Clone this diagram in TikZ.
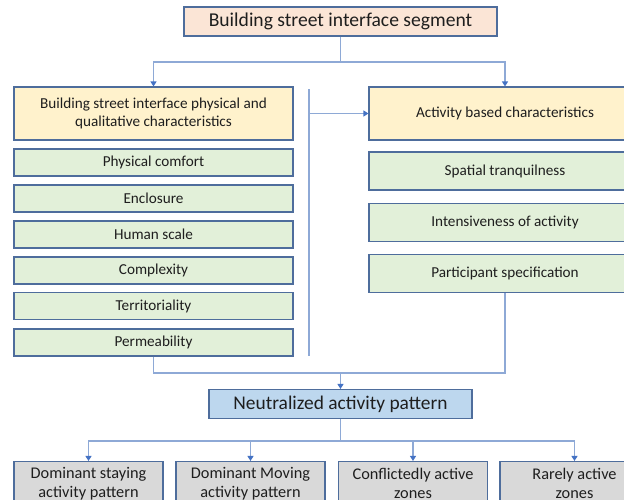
\documentclass[tikz,border=0pt]{standalone}
\usepackage{fontspec}
\setmainfont{Carlito}
\usetikzlibrary{arrows.meta}
\definecolor{boxedge}{HTML}{4E6D9C}
\definecolor{peach}{HTML}{FBE5D6}
\definecolor{cream}{HTML}{FFF2CC}
\definecolor{mint}{HTML}{E2F0D9}
\definecolor{sky}{HTML}{BDD7EE}
\definecolor{greybox}{HTML}{D9D9D9}
\definecolor{linkline}{HTML}{8EA9D6}
\definecolor{tipblue}{HTML}{4472C4}
\definecolor{ink}{HTML}{1E1E1E}
\tikzset{
  x=1pt, y=-1pt,
  card/.style={draw=boxedge, line width=1.1pt, rectangle, inner sep=0pt,
    text=ink, align=center},
  titlebox/.style={card, fill=peach, minimum width=313pt, minimum height=29pt, font=\fontsize{19.6}{22}\selectfont},
  headbox/.style={card, fill=cream, minimum height=53pt, font=\fontsize{15.2}{18}\selectfont},
  itembox/.style={card, fill=mint, font=\fontsize{15.2}{18}\selectfont},
  neutralbox/.style={card, fill=sky, minimum width=263pt, minimum height=29pt, font=\fontsize{19.4}{22}\selectfont},
  outbox/.style={card, fill=greybox, minimum width=149pt, minimum height=44pt, font=\fontsize{16.3}{18.5}\selectfont},
  link/.style={draw=linkline, line width=1.1pt},
  linkarrow/.style={link, -{Triangle[width=6pt,length=5pt,color=tipblue]}},
}
\begin{document}
\begin{tikzpicture}
\clip (0,0) rectangle (624,499);
\fill[white] (0,0) rectangle (624,499);

% top level
\node[titlebox] (segment) at (340.5,21.5) {Building street interface segment};

% two characteristic groups
\node[headbox, minimum width=279pt] (physical) at (153.5,113.5)
  {Building street interface physical and\\qualitative characteristics};
\node[headbox, minimum width=272pt] (activity) at (505,113.5)
  {Activity based characteristics};

% physical and qualitative items
\node[itembox, minimum width=279pt, minimum height=27pt] (comfort) at (153.5,162.5) {Physical comfort};
\node[itembox, minimum width=279pt, minimum height=27pt] (enclosure) at (153.5,198.5) {Enclosure};
\node[itembox, minimum width=279pt, minimum height=27pt] (scale) at (153.5,234.5) {Human scale};
\node[itembox, minimum width=279pt, minimum height=27pt] (complexity) at (153.5,270.5) {Complexity};
\node[itembox, minimum width=279pt, minimum height=27pt] (territory) at (153.5,306) {Territoriality};
\node[itembox, minimum width=279pt, minimum height=27pt] (permeability) at (153.5,342.5) {Permeability};

% activity based items
\node[itembox, minimum width=272pt, minimum height=38pt] (tranquil) at (505,171) {Spatial tranquilness};
\node[itembox, minimum width=272pt, minimum height=38pt] (intensity) at (505,222.5) {Intensiveness of activity};
\node[itembox, minimum width=272pt, minimum height=38pt] (participant) at (505,273.5) {Participant specification};

% result
\node[neutralbox] (neutral) at (340.5,404) {Neutralized activity pattern};

% outcome patterns
\node[outbox] (staying) at (88.5,483.5) {Dominant staying\\activity pattern};
\node[outbox] (moving) at (250.5,483.5) {Dominant Moving\\activity pattern};
\node[outbox] (conflict) at (413,483.5) {Conflictedly active\\zones};
\node[outbox] (rare) at (574.5,483.5) {Rarely active\\zones};

% split from the segment to both groups
\coordinate (split) at (340.5,62);
\draw[link] (segment.south) -- (split);
\draw[linkarrow] (split) -| (physical.north);
\draw[linkarrow] (split) -| (activity.north);

% bracket beside the physical items, feeding the activity group
\coordinate (bartop) at (309,89);
\coordinate (barbot) at (309,356);
\coordinate (barmid) at (309,113.5);
\draw[link] (bartop) -- (barbot);
\draw[linkarrow] (barmid) -- (activity.west);

% both groups merge into the neutralized pattern
\coordinate (merge) at (340.5,373);
\draw[link] (participant.south) |- (merge);
\draw[link] (permeability.south) |- (merge);
\draw[linkarrow] (merge) -- (neutral.north);

% fan out to the outcome patterns
\coordinate (fan) at (340.5,441);
\draw[link] (neutral.south) -- (fan);
\draw[linkarrow] (fan) -| (staying.north);
\draw[linkarrow] (fan) -| (moving.north);
\draw[linkarrow] (fan) -| (conflict.north);
\draw[linkarrow] (fan) -| (rare.north);
\end{tikzpicture}
\end{document}
